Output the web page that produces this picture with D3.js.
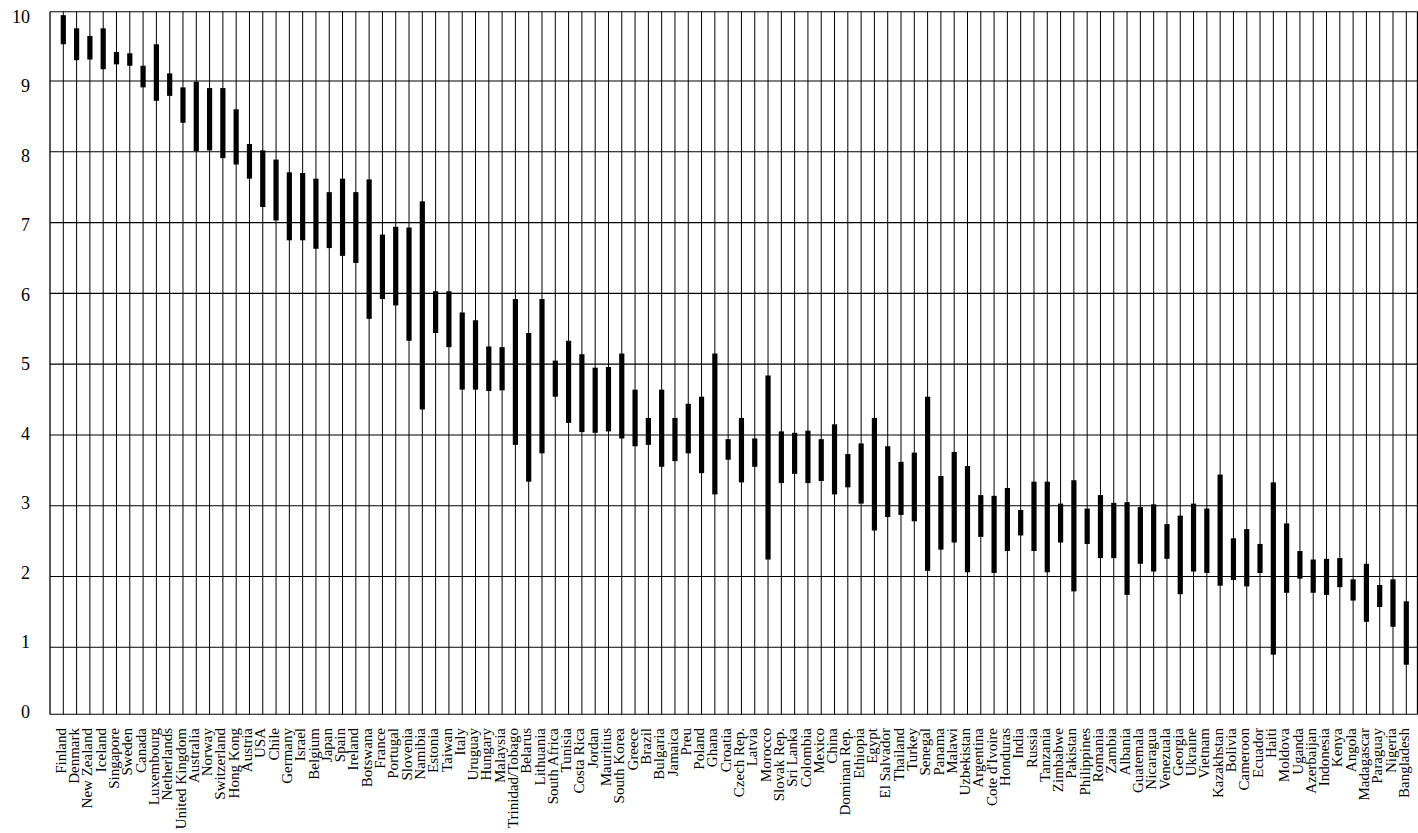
<!DOCTYPE html>
<html>
<head>
<meta charset="utf-8">
<script src="https://cdn.jsdelivr.net/npm/d3@7"></script>
<style>
  html, body { margin: 0; padding: 0; background: #fff; }
  svg { display: block; }
</style>
</head>
<body>
<svg id="chart" width="1418" height="833"></svg>
<script>
const countries = ["Finland","Denmark","New Zealand","Iceland","Singapore","Sweden","Canada","Luxembourg","Netherlands","United Kingdom","Australia","Norway","Switzerland","Hong Kong","Austria","USA","Chile","Germany","Israel","Belgium","Japan","Spain","Ireland","Botswana","France","Portugal","Slovenia","Namibia","Estonia","Taiwan","Italy","Uruguay","Hungary","Malaysia","Trinidad/Tobago","Belarus","Lithuania","South Africa","Tunisia","Costa Rica","Jordan","Mauritius","South Korea","Greece","Brazil","Bulgaria","Jamaica","Preu","Poland","Ghana","Croatia","Czech Rep.","Latvia","Morocco","Slovak Rep.","Sri Lanka","Colombia","Mexico","China","Dominan Rep.","Ethiopia","Egypt","El Salvador","Thailand","Turkey","Senegal","Panama","Malawi","Uzbekistan","Argentina","Cote d'Ivoire","Honduras","India","Russia","Tanzania","Zimbabwe","Pakistan","Philippines","Romania","Zambia","Albania","Guatemala","Nicaragua","Venezuala","Georgia","Ukraine","Vietnam","Kazakhstan","Bolivia","Cameroon","Ecuador","Haiti","Moldova","Uganda","Azerbaijan","Indonesia","Kenya","Angola","Madagascar","Paraguay","Nigeria","Bangladesh"];

const highValues = [9.95,9.76,9.65,9.76,9.42,9.40,9.22,9.53,9.11,8.91,8.99,8.90,8.90,8.60,8.11,8.02,7.89,7.71,7.70,7.62,7.43,7.62,7.43,7.61,6.83,6.94,6.93,7.30,6.03,6.03,5.73,5.62,5.25,5.24,5.92,5.44,5.92,5.05,5.33,5.14,4.95,4.96,5.15,4.64,4.24,4.64,4.24,4.44,4.54,5.15,3.94,4.24,3.95,4.84,4.05,4.03,4.06,3.94,4.15,3.73,3.88,4.24,3.84,3.62,3.75,4.54,3.42,3.76,3.56,3.15,3.14,3.25,2.94,3.34,3.34,3.03,3.36,2.96,3.15,3.04,3.05,2.98,3.02,2.74,2.86,3.03,2.96,3.44,2.54,2.67,2.46,3.33,2.75,2.36,2.24,2.25,2.26,1.96,2.18,1.88,1.96,1.65];

const lowValues = [9.53,9.30,9.31,9.17,9.24,9.22,8.91,8.72,8.79,8.41,8.01,8.02,7.91,7.82,7.62,7.22,7.03,6.75,6.75,6.63,6.64,6.53,6.43,5.64,5.92,5.83,5.33,4.36,5.44,5.24,4.64,4.64,4.62,4.63,3.86,3.34,3.74,4.54,4.17,4.04,4.03,4.05,3.95,3.84,3.86,3.55,3.63,3.74,3.46,3.16,3.65,3.33,3.55,2.24,3.32,3.45,3.32,3.35,3.16,3.26,3.03,2.65,2.84,2.87,2.78,2.08,2.38,2.48,2.06,2.56,2.05,2.36,2.58,2.36,2.06,2.48,1.79,2.46,2.26,2.26,1.74,2.18,2.07,2.25,1.75,2.07,2.05,1.87,1.95,1.86,2.05,0.89,1.77,1.97,1.77,1.74,1.85,1.66,1.36,1.57,1.29,0.74];

const yTicks = [0,1,2,3,4,5,6,7,8,9,10];

(function () {
  const svg = d3.select("#chart");
  const pLeft = 50, pRight = 1417.5, pTop = 11.7, pBottom = 714.3;

  const x = d3.scalePoint().domain(countries).range([63.3, 1406.3]);
  const y = d3.scaleLinear().domain([0, 1, 9, 10]).range([pBottom, 647.3, 81, pTop]);
  const yLabel = d3.scaleLinear().domain([0, 10]).range([718, 22.7]);

  const g = svg.append("g");

  // horizontal gridlines
  g.selectAll("line.h").data(yTicks).join("line")
    .attr("class", "h")
    .attr("x1", pLeft).attr("x2", pRight)
    .attr("y1", d => y(d)).attr("y2", d => y(d))
    .attr("stroke", "#000").attr("stroke-width", 1.1);

  // vertical gridlines at category centres
  g.selectAll("line.v").data(countries).join("line")
    .attr("class", "v")
    .attr("x1", d => x(d)).attr("x2", d => x(d))
    .attr("y1", pTop).attr("y2", pBottom)
    .attr("stroke", "#000").attr("stroke-width", 1);

  // frame sides
  g.append("line").attr("x1", pLeft).attr("x2", pLeft).attr("y1", pTop).attr("y2", pBottom)
    .attr("stroke", "#000").attr("stroke-width", 1.3);
  g.append("line").attr("x1", pRight).attr("x2", pRight).attr("y1", pTop).attr("y2", pBottom)
    .attr("stroke", "#000").attr("stroke-width", 1.3);

  // range bars
  g.selectAll("rect.bar").data(countries).join("rect")
    .attr("class", "bar")
    .attr("x", d => x(d) - 2.6)
    .attr("width", 5.2)
    .attr("y", (d, i) => y(highValues[i]))
    .attr("height", (d, i) => y(lowValues[i]) - y(highValues[i]))
    .attr("fill", "#000");

  // y labels
  svg.append("g").selectAll("text").data(yTicks).join("text")
    .attr("x", 30)
    .attr("y", d => yLabel(d))
    .attr("text-anchor", "end")
    .attr("font-family", "'Liberation Serif', 'Times New Roman', serif")
    .attr("font-size", 18)
    .attr("fill", "#000")
    .text(d => d);

  // x labels
  svg.append("g").selectAll("text").data(countries).join("text")
    .attr("transform", d => `translate(${x(d) + 2.6},728) rotate(-90)`)
    .attr("text-anchor", "end")
    .attr("font-family", "'Liberation Serif', 'Times New Roman', serif")
    .attr("font-size", 15)
    .attr("fill", "#000")
    .text(d => d);
})();
</script>
</body>
</html>
